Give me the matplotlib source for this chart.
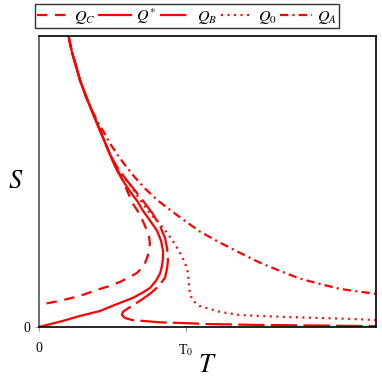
import matplotlib
matplotlib.use("Agg")
import matplotlib.pyplot as plt

plt.rcParams['font.family'] = ['Liberation Serif', 'DejaVu Serif']
plt.rcParams['mathtext.fontset'] = 'stix'
plt.rcParams['lines.scale_dashes'] = False

RED = '#ff0000'

# common upper branch (T in units of T0, S normalised)
top_T = [0.190, 0.201, 0.224, 0.252, 0.279, 0.320, 0.361, 0.415, 0.483, 0.531]
top_S = [1.050, 1.000, 0.945, 0.897, 0.848, 0.793, 0.741, 0.676, 0.593, 0.538]

# Q* (solid)
qs_T = [0.571, 0.619, 0.667, 0.707, 0.755, 0.803, 0.830, 0.844, 0.844, 0.837, 0.823,
        0.796, 0.755, 0.701, 0.639, 0.531, 0.415, 0.279, 0.163, 0.0]
qs_S = [0.503, 0.466, 0.434, 0.400, 0.366, 0.331, 0.297, 0.262, 0.238, 0.210, 0.183,
        0.159, 0.134, 0.117, 0.100, 0.079, 0.055, 0.038, 0.021, 0.0]

# Q_B (long dash)
qb_T = [0.537, 0.599, 0.653, 0.707, 0.769, 0.823, 0.857, 0.871, 0.878, 0.871, 0.857,
        0.816, 0.755, 0.687, 0.599, 0.571, 0.565, 0.585, 0.633, 0.707, 0.823, 0.959,
        1.163, 1.503, 1.912, 2.293]
qb_S = [0.545, 0.503, 0.469, 0.434, 0.393, 0.348, 0.307, 0.272, 0.228, 0.200, 0.169,
        0.141, 0.114, 0.090, 0.062, 0.052, 0.041, 0.031, 0.024, 0.021, 0.016, 0.014,
        0.010, 0.007, 0.005, 0.003]

# Q_C (dashed)
qc_T = [0.531, 0.571, 0.599, 0.639, 0.687, 0.721, 0.748, 0.755, 0.741, 0.714, 0.667,
        0.619, 0.551, 0.483, 0.415, 0.279, 0.143, 0.0]
qc_S = [0.545, 0.503, 0.469, 0.424, 0.386, 0.348, 0.314, 0.286, 0.245, 0.210, 0.186,
        0.172, 0.155, 0.141, 0.131, 0.107, 0.090, 0.076]

# Q_0 (dotted)
q0_T = [0.524, 0.571, 0.619, 0.667, 0.707, 0.755, 0.810, 0.871, 0.918, 0.959, 0.993,
        1.014, 1.020, 1.027, 1.048, 1.095, 1.163, 1.231, 1.367, 1.503, 1.707, 1.912,
        2.116, 2.293]
q0_S = [0.552, 0.517, 0.490, 0.452, 0.424, 0.390, 0.362, 0.324, 0.290, 0.255, 0.221,
        0.186, 0.148, 0.114, 0.090, 0.072, 0.062, 0.052, 0.041, 0.038, 0.034, 0.031,
        0.028, 0.024]

# Q_A (dash-dot)
qa_T = [0.320, 0.361, 0.401, 0.442, 0.483, 0.537, 0.592, 0.653, 0.721, 0.810, 0.891,
        0.973, 1.095, 1.231, 1.367, 1.503, 1.639, 1.776, 1.912, 2.048, 2.184, 2.293]
qa_S = [0.790, 0.745, 0.703, 0.669, 0.631, 0.590, 0.552, 0.514, 0.476, 0.434, 0.403,
        0.372, 0.328, 0.290, 0.255, 0.221, 0.193, 0.166, 0.148, 0.131, 0.121, 0.114]

labels = ['$Q_C$', '$Q^{*}$', '$Q_B$', '$Q_{\\mathit{0}}$', '$Q_A$']

fig = plt.figure(figsize=(3.82, 3.82), dpi=100)
ax = fig.add_axes([39/382, 1-327/382, 337/382, 291/382])

lw = 1.6
hC, = ax.plot(top_T + qc_T, top_S + qc_S, color=RED, lw=lw, dashes=(7.5, 5.5))
hS, = ax.plot(top_T + qs_T, top_S + qs_S, color=RED, lw=lw)
hB, = ax.plot(top_T[:-1] + qb_T, top_S[:-1] + qb_S, color=RED, lw=lw, dashes=(19, 4.5))
h0, = ax.plot(top_T[:-1] + q0_T, top_S[:-1] + q0_S, color=RED, lw=lw, dashes=(1.4, 3.3))
hA, = ax.plot(top_T[:5] + qa_T, top_S[:5] + qa_S, color=RED, lw=lw, dashes=(6, 3, 1.5, 3))

ax.set_xlim(0, 2.293)
ax.set_ylim(0, 1.0)
ax.set_xticks([0, 1])
ax.set_xticklabels(['0', 'T$_\\mathrm{0}$'])
ax.set_yticks([0])
ax.set_yticklabels(['0'])
ax.tick_params(axis='both', length=3, width=0.8, color='#999999', labelsize=10, direction='out')
ax.tick_params(axis='x', pad=8)
ax.tick_params(axis='y', pad=3)
for sp in ax.spines.values():
    sp.set_linewidth(1.2)
    sp.set_color('black')
ax.spines['left'].set_color('#555555')

ax.set_xlabel('$T$', fontsize=19, labelpad=-2)
ax.set_ylabel('$S$', fontsize=19, rotation=0, labelpad=6, va='center')

leg = fig.legend([hC, hS, hB, h0, hA], labels, loc='upper left',
                 bbox_to_anchor=(35/382, 1-4/382), ncol=5, fontsize=11.5,
                 frameon=True, fancybox=False, handlelength=2.0,
                 handletextpad=0.3, columnspacing=0.25, borderpad=0.15,
                 borderaxespad=0)
leg.get_frame().set_edgecolor('black')
leg.get_frame().set_linewidth(1.0)

fig.savefig('out.png', dpi=100)
